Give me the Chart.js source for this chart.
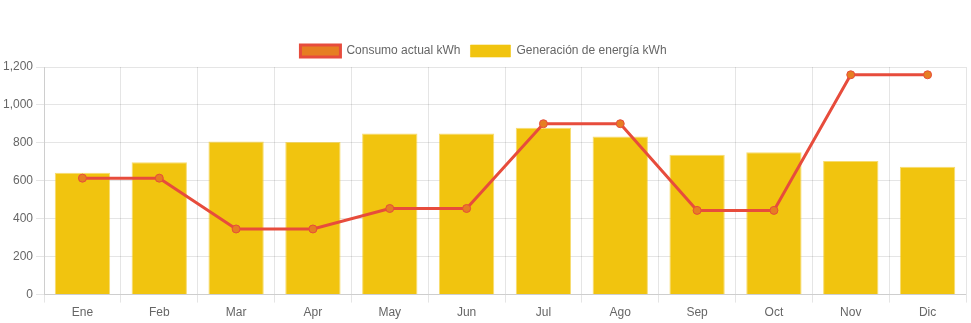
<!DOCTYPE html>
<html>
<head>
<meta charset="utf-8">
<script src="https://cdn.jsdelivr.net/npm/chart.js@4"></script>
<style>
  html, body { margin: 0; padding: 0; background: #fff; }
  #wrap { width: 971px; height: 323px; }
</style>
</head>
<body>
<div id="wrap"><canvas id="energia-chart"></canvas></div>
<script>
const meses = ["Ene","Feb","Mar","Apr","May","Jun","Jul","Ago","Sep","Oct","Nov","Dic"];
const consumo = [614, 614, 346, 346, 454, 454, 901, 901, 444, 444, 1159, 1159];
const generacion = [642, 698, 807, 805, 849, 849, 880, 833, 737, 751, 705, 674];

const ctx = document.getElementById("energia-chart");
new Chart(ctx, {
  type: "bar",
  data: {
    labels: meses,
    datasets: [
      {
        type: "line",
        label: "Consumo actual kWh",
        data: consumo,
        borderColor: "#e74c3c",
        backgroundColor: "#e67e22",
        borderWidth: 3,
        pointRadius: 4,
        pointBorderWidth: 1,
        pointBackgroundColor: "#e67e22",
        pointBorderColor: "#e74c3c",
        tension: 0,
        fill: false
      },
      {
        label: "Generación de energía kWh",
        data: generacion,
        backgroundColor: "#f1c40f",
        borderColor: "rgba(241,196,15,.6)",
        borderWidth: 1
      }
    ]
  },
  options: {
    responsive: true,
    maintainAspectRatio: false,
    animation: false,
    layout: { padding: { top: 35, right: 4 } },
    plugins: {
      legend: {
        labels: { color: "#666", font: { size: 12 }, boxWidth: 40 }
      },
      tooltip: { enabled: false }
    },
    scales: {
      x: {
        grid: { color: "rgba(0,0,0,.1)" },
        ticks: { color: "#666", font: { size: 12 } }
      },
      y: {
        beginAtZero: true,
        min: 0,
        max: 1200,
        ticks: { stepSize: 200, color: "#666", font: { size: 12 } },
        grid: { color: "rgba(0,0,0,.1)" }
      }
    }
  }
});
</script>
</body>
</html>
